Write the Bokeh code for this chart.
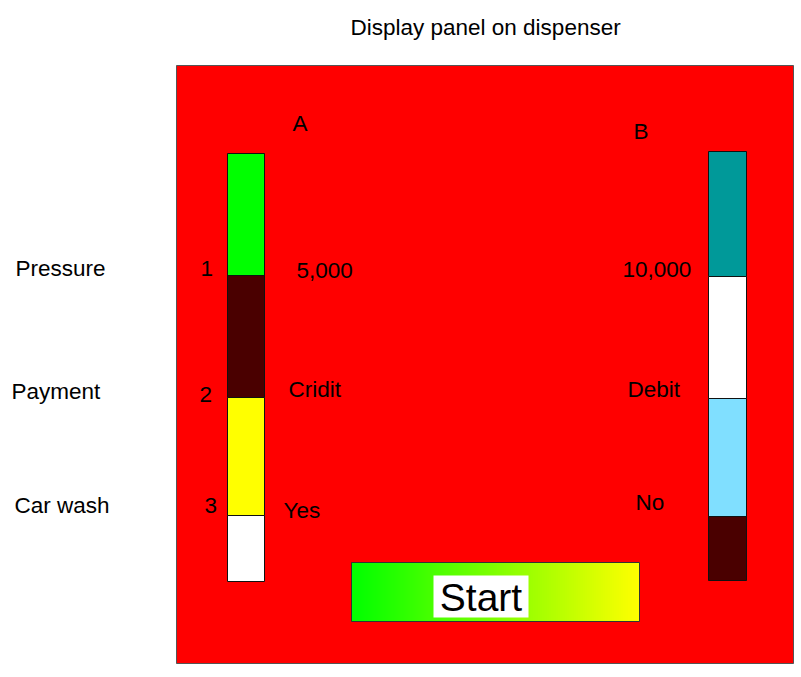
from bokeh.plotting import figure
from bokeh.models import Range1d, ColumnDataSource
from bokeh.core.properties import value
from bokeh.embed import file_html
from bokeh.resources import INLINE

# ---- data ----
title_text = "Display panel on dispenser"
rows = ["Pressure", "Payment", "Car wash"]
row_numbers = ["1", "2", "3"]
options = ["A", "B"]
option_a_values = ["5,000", "Cridit", "Yes"]
option_b_values = ["10,000", "Debit", "No"]
bar_a_heights = [122, 122, 118, 66]
bar_a_colors = ["#00ff00", "#4a0000", "#ffff00", "#ffffff"]
bar_b_heights = [125, 122, 118, 64]
bar_b_colors = ["#009999", "#ffffff", "#80dfff", "#4a0000"]
button_label = "Start"
button_colors = ("#00ff00", "#ffff00")

FONT = value("Liberation Sans")
W, H = 795, 669

p = figure(width=W, height=H, output_backend="svg", toolbar_location=None,
           x_range=Range1d(0, W), y_range=Range1d(H, 0),
           min_border=0, outline_line_color=None)
p.axis.visible = False
p.grid.visible = False
p.background_fill_color = "white"
p.border_fill_color = "white"

# panel
p.quad(left=[176], right=[793], top=[65], bottom=[663], fill_color="#ff0000",
       line_color="#555555", line_width=1)

def draw_bar(x0, x1, top, heights, colors):
    tops, bottoms = [], []
    y = top
    for h in heights:
        tops.append(y)
        bottoms.append(y + h)
        y += h
    src = ColumnDataSource(dict(left=[x0] * len(heights), right=[x1] * len(heights),
                                top=tops, bottom=bottoms, color=colors))
    p.quad(left="left", right="right", top="top", bottom="bottom", fill_color="color",
           line_color="#111111", line_width=1, source=src)

draw_bar(227, 264, 153, bar_a_heights, bar_a_colors)
draw_bar(708, 746, 151, bar_b_heights, bar_b_colors)

# start button gradient
bx0, bx1, by0, by1 = 351, 639, 562, 621
n = bx1 - bx0
def hexc(c):
    return tuple(int(c[i:i + 2], 16) for i in (1, 3, 5))
c0, c1 = hexc(button_colors[0]), hexc(button_colors[1])
lefts, rights, cols = [], [], []
for i in range(n):
    t = i / (n - 1)
    rgb = tuple(round(c0[k] + (c1[k] - c0[k]) * t) for k in range(3))
    lefts.append(bx0 + i)
    rights.append(min(bx0 + i + 1.6, bx1))
    cols.append("#%02x%02x%02x" % rgb)
p.quad(left=lefts, right=rights, top=[by0] * n, bottom=[by1] * n, fill_color=cols, line_color=None)
p.quad(left=[bx0], right=[bx1], top=[by0], bottom=[by1], fill_color=None,
       line_color="#333333", line_width=1)
p.quad(left=[433], right=[528], top=[575], bottom=[617], fill_color="white", line_color=None)
p.text(x=[480.5], y=[597], text=[button_label], text_font=FONT, text_font_size="39px",
       text_align="center", text_baseline="middle", text_color="black")

def txt(xs, ys, labels, align="left", size="22.5px"):
    p.text(x=xs, y=ys, text=labels, text_font=FONT, text_font_size=size,
           text_align=align, text_baseline="middle", text_color="black")

txt([350], [27], [title_text])
txt([292, 633], [123, 130.5], options)
txt([15, 11, 14], [268, 391, 505], rows)
txt([200, 199, 204], [268, 394, 505], row_numbers)
txt([296, 288, 283], [270, 389, 510], option_a_values)
txt([622, 627, 635], [269, 389, 502], option_b_values)

open("out.html", "w").write(file_html(p, INLINE))
